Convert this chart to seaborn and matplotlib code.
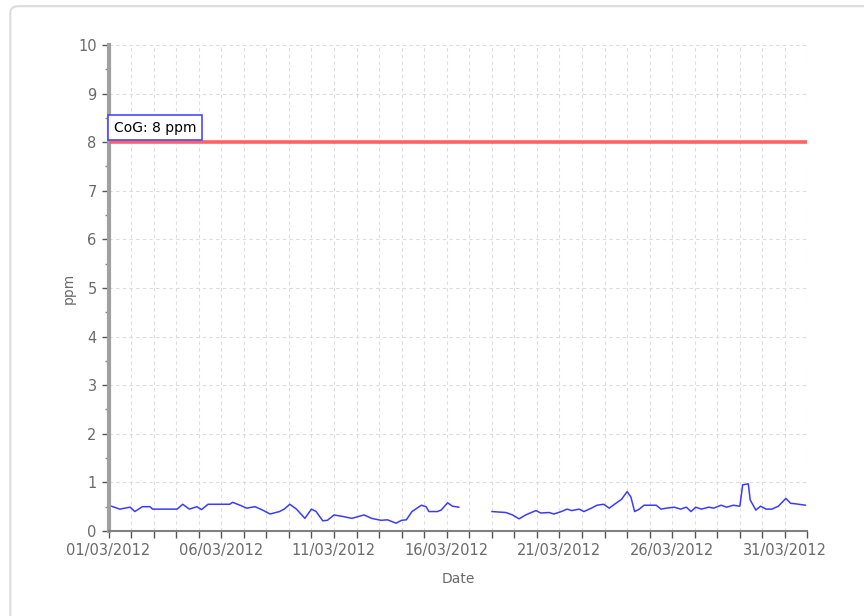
import pandas as pd
import numpy as np
import matplotlib
matplotlib.use("Agg")
import matplotlib.pyplot as plt
import matplotlib.dates as mdates
from matplotlib.ticker import MultipleLocator, FixedLocator
from matplotlib.patches import FancyBboxPatch
import seaborn as sns

# --- data (hourly-ish CO readings, March 2012) ---
seg1_times = [
    "2012-03-01 00:00", "2012-03-01 12:00", "2012-03-01 23:00", "2012-03-02 04:00",
    "2012-03-02 12:00", "2012-03-02 20:00", "2012-03-02 23:00", "2012-03-04 01:00",
    "2012-03-04 07:00", "2012-03-04 14:00", "2012-03-04 22:00", "2012-03-05 03:00",
    "2012-03-05 10:00", "2012-03-06 09:00", "2012-03-06 12:00", "2012-03-06 20:00",
    "2012-03-07 03:00", "2012-03-07 12:00", "2012-03-07 20:00", "2012-03-08 04:00",
    "2012-03-08 14:00", "2012-03-08 19:00", "2012-03-09 01:00", "2012-03-09 08:00",
    "2012-03-09 17:00", "2012-03-10 00:00", "2012-03-10 05:00", "2012-03-10 12:00",
    "2012-03-10 17:00", "2012-03-11 00:00", "2012-03-11 09:00", "2012-03-11 19:00",
    "2012-03-12 08:00", "2012-03-12 16:00", "2012-03-13 02:00", "2012-03-13 09:00",
    "2012-03-13 18:00", "2012-03-14 00:00", "2012-03-14 05:00", "2012-03-14 11:00",
    "2012-03-14 21:00", "2012-03-15 02:00", "2012-03-15 05:00", "2012-03-15 14:00",
    "2012-03-15 18:00", "2012-03-16 01:00", "2012-03-16 06:00", "2012-03-16 13:00",
]
seg1_ppm = [
    0.53, 0.45, 0.49, 0.40, 0.50, 0.50, 0.45, 0.45,
    0.55, 0.45, 0.50, 0.44, 0.55, 0.55, 0.59, 0.53,
    0.47, 0.50, 0.43, 0.35, 0.40, 0.45, 0.55, 0.45,
    0.26, 0.45, 0.40, 0.21, 0.22, 0.33, 0.30, 0.26,
    0.33, 0.26, 0.22, 0.23, 0.16, 0.22, 0.23, 0.40,
    0.53, 0.50, 0.40, 0.40, 0.43, 0.58, 0.51, 0.49,
]

seg2_times = [
    "2012-03-18 00:00", "2012-03-18 15:00", "2012-03-18 22:00", "2012-03-19 05:00",
    "2012-03-19 12:00", "2012-03-19 18:00", "2012-03-19 23:00", "2012-03-20 04:00",
    "2012-03-20 13:00", "2012-03-20 18:00", "2012-03-21 02:00", "2012-03-21 08:00",
    "2012-03-21 13:00", "2012-03-21 21:00", "2012-03-22 02:00", "2012-03-22 10:00",
    "2012-03-22 16:00", "2012-03-22 23:00", "2012-03-23 05:00", "2012-03-23 12:00",
    "2012-03-23 18:00", "2012-03-24 00:00", "2012-03-24 04:00", "2012-03-24 08:00",
    "2012-03-24 13:00", "2012-03-24 18:00", "2012-03-25 07:00", "2012-03-25 12:00",
    "2012-03-25 18:00", "2012-03-26 02:00", "2012-03-26 09:00", "2012-03-26 15:00",
    "2012-03-26 20:00", "2012-03-27 01:00", "2012-03-27 07:00", "2012-03-27 15:00",
    "2012-03-27 20:00", "2012-03-28 04:00", "2012-03-28 10:00", "2012-03-28 17:00",
    "2012-03-29 00:00", "2012-03-29 03:00", "2012-03-29 09:00", "2012-03-29 11:00",
    "2012-03-29 17:00", "2012-03-29 22:00", "2012-03-30 04:00", "2012-03-30 10:00",
    "2012-03-30 17:00", "2012-03-31 01:00", "2012-03-31 06:00", "2012-03-31 11:00",
    "2012-03-31 22:00",
]
seg2_ppm = [
    0.40, 0.38, 0.33, 0.25, 0.33, 0.38, 0.42, 0.37,
    0.38, 0.35, 0.40, 0.45, 0.42, 0.45, 0.40, 0.47,
    0.53, 0.55, 0.47, 0.57, 0.65, 0.81, 0.70, 0.40,
    0.45, 0.53, 0.53, 0.45, 0.47, 0.49, 0.45, 0.49,
    0.40, 0.49, 0.45, 0.49, 0.47, 0.53, 0.49, 0.53,
    0.51, 0.95, 0.97, 0.64, 0.43, 0.51, 0.45, 0.45,
    0.51, 0.67, 0.57, 0.56, 0.53,
]

limit_ppm = 8
limit_label = "CoG: 8 ppm"
y_ticks = list(range(0, 11))
x_labelled_days = ["2012-03-01", "2012-03-06", "2012-03-11", "2012-03-16",
                   "2012-03-21", "2012-03-26", "2012-03-31"]
x_start, x_end = "2012-03-01", "2012-04-01"

df = pd.concat([
    pd.DataFrame({"Date": pd.to_datetime(seg1_times), "ppm": seg1_ppm, "seg": 1}),
    pd.DataFrame({"Date": pd.to_datetime(seg2_times), "ppm": seg2_ppm, "seg": 2}),
])

sns.set_style("white")
plt.rcParams["font.family"] = ["DejaVu Sans"]

fig = plt.figure(figsize=(8.64, 6.16), dpi=100)
ax = fig.add_axes([0.1256, 0.138, 0.809, 0.789])

# outer rounded frame
frame = FancyBboxPatch((0.012, -0.05), 1.1, 1.04, boxstyle="round,pad=0,rounding_size=0.01",
                       transform=fig.transFigure, fill=False, ec="#dcdcdc", lw=1.5,
                       clip_on=False)
fig.patches.append(frame)

sns.lineplot(data=df, x="Date", y="ppm", units="seg", estimator=None,
             color="#3b3bff", lw=1.1, ax=ax)

ax.axhline(limit_ppm, color="#ff6262", lw=2.6, zorder=3)
ax.annotate(limit_label, xy=(pd.Timestamp(x_start), limit_ppm), xytext=(4, 5.5),
            textcoords="offset points", fontsize=10, color="black", va="bottom", ha="left",
            bbox=dict(boxstyle="square,pad=0.42", fc="white", ec="#4a4aff", lw=1.2),
            zorder=5)

ax.set_xlim(pd.Timestamp(x_start), pd.Timestamp(x_end))
ax.set_ylim(0, 10)
ax.set_yticks(y_ticks)
ax.yaxis.set_minor_locator(MultipleLocator(0.5))
ax.xaxis.set_major_locator(FixedLocator(mdates.date2num(pd.to_datetime(x_labelled_days))))
ax.xaxis.set_minor_locator(mdates.DayLocator())
ax.xaxis.set_major_formatter(mdates.DateFormatter("%d/%m/%Y"))

ax.grid(which="both", axis="x", ls=(0, (3, 3)), color="#dcdcdc", lw=0.8)
ax.grid(which="major", axis="y", ls=(0, (3, 3)), color="#dcdcdc", lw=0.8)
ax.set_axisbelow(True)

for side in ["top", "right"]:
    ax.spines[side].set_visible(False)
ax.spines["left"].set_color("#a0a0a0")
ax.spines["left"].set_linewidth(3)
ax.spines["bottom"].set_color("#808080")
ax.spines["bottom"].set_linewidth(1.5)

ax.tick_params(axis="both", which="major", direction="out", length=5, width=1,
               color="#555555", labelsize=10.5, labelcolor="#6a6a6a", left=True, bottom=True)
ax.tick_params(axis="x", which="minor", direction="out", length=5, width=1,
               color="#555555", bottom=True)
ax.tick_params(axis="y", which="minor", direction="out", length=3, width=1,
               color="#888888", left=True)

ax.set_xlabel("Date", fontsize=10, color="#6a6a6a", labelpad=10)
ax.set_ylabel("ppm", fontsize=10, color="#6a6a6a", labelpad=2)

fig.savefig("out.png", dpi=100)
